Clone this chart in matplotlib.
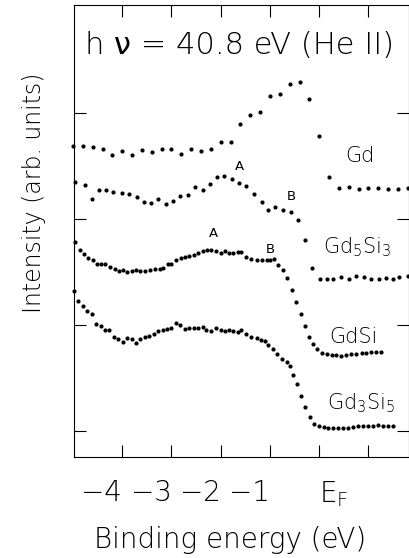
"""
Espectros de fotoemissão (He II, 40.8 eV) de Gd e siliceto de Gd
Pontos lidos do gráfico original
"""
import matplotlib
matplotlib.use("Agg")
import matplotlib.pyplot as plt

plt.rcParams['font.family'] = ['DejaVu Sans']
plt.rcParams['font.weight'] = 200
plt.rcParams['axes.labelweight'] = 200
plt.rcParams['mathtext.fontset'] = 'dejavusans'
plt.rcParams['mathtext.default'] = 'regular'

# Gd (passo de 0.2 eV)
gd_x = [-5.0, -4.8, -4.6, -4.4, -4.2, -4.0, -3.8, -3.6, -3.4, -3.2, -3.0, -2.8,
        -2.6, -2.4, -2.2, -2.0, -1.8, -1.6, -1.4, -1.2, -1.0, -0.8, -0.6, -0.4,
        -0.2, 0.0, 0.2, 0.4, 0.6, 0.8, 1.0, 1.2, 1.4, 1.6, 1.8]
gd_y = [2.69, 2.69, 2.68, 2.66, 2.60, 2.64, 2.60, 2.65, 2.63, 2.66, 2.66, 2.61,
        2.66, 2.64, 2.66, 2.73, 2.73, 2.90, 2.98, 3.01, 3.16, 3.18, 3.27, 3.29,
        3.13, 2.78, 2.40, 2.29, 2.30, 2.28, 2.29, 2.29, 2.28, 2.28, 2.29]

# Gd5Si3
gd5si3_x = [-4.96, -4.76, -4.62, -4.47, -4.33, -4.18, -4.01, -3.86, -3.71, -3.56,
            -3.42, -3.27, -3.11, -2.97, -2.82, -2.66, -2.53, -2.37, -2.22, -2.07,
            -1.94, -1.78, -1.63, -1.48, -1.32, -1.17, -1.04, -0.89, -0.73, -0.58,
            -0.44, -0.29, -0.14, 0.01, 0.15, 0.29, 0.45, 0.60, 0.75, 0.90,
            1.06, 1.21, 1.36, 1.50, 1.63, 1.80]
gd5si3_y = [2.35, 2.32, 2.19, 2.27, 2.27, 2.26, 2.25, 2.24, 2.21, 2.16,
            2.15, 2.19, 2.14, 2.17, 2.22, 2.23, 2.30, 2.27, 2.33, 2.40,
            2.41, 2.38, 2.34, 2.31, 2.24, 2.16, 2.09, 2.11, 2.09, 2.07,
            1.99, 1.80, 1.54, 1.43, 1.43, 1.43, 1.45, 1.43, 1.46, 1.45,
            1.43, 1.43, 1.44, 1.43, 1.45, 1.46]

# GdSi
gdsi_x = [-4.96, -4.86, -4.78, -4.69, -4.60, -4.52, -4.44, -4.35, -4.25, -4.15,
          -4.06, -3.98, -3.90, -3.81, -3.72, -3.64, -3.54, -3.44, -3.34, -3.24,
          -3.17, -3.07, -3.00, -2.90, -2.80, -2.73, -2.64, -2.55, -2.46, -2.37,
          -2.28, -2.19, -2.10, -2.00, -1.92, -1.83, -1.75, -1.65, -1.58, -1.48,
          -1.38, -1.27, -1.17, -1.07, -1.00, -0.92, -0.84, -0.73, -0.65, -0.56,
          -0.48, -0.38, -0.29, -0.21, -0.13, -0.04, 0.06, 0.15, 0.25, 0.35,
          0.45, 0.55, 0.65, 0.75, 0.86, 0.96, 1.06, 1.16, 1.26]
gdsi_y = [1.78, 1.71, 1.67, 1.63, 1.61, 1.58, 1.58, 1.58, 1.55, 1.53,
          1.51, 1.52, 1.50, 1.51, 1.52, 1.51, 1.51, 1.52, 1.53, 1.53,
          1.54, 1.58, 1.58, 1.61, 1.63, 1.64, 1.65, 1.66, 1.68, 1.70,
          1.71, 1.71, 1.70, 1.68, 1.70, 1.68, 1.68, 1.69, 1.69, 1.64,
          1.62, 1.61, 1.61, 1.61, 1.61, 1.62, 1.57, 1.52, 1.44, 1.33,
          1.22, 1.10, 0.99, 0.89, 0.82, 0.77, 0.74, 0.73, 0.72, 0.72,
          0.71, 0.72, 0.73, 0.73, 0.74, 0.74, 0.75, 0.75, 0.75]

# Gd3Si5
gd3si5_x = [-4.98, -4.89, -4.80, -4.71, -4.62, -4.53, -4.44, -4.35, -4.26, -4.17,
            -4.08, -3.99, -3.90, -3.81, -3.72, -3.64, -3.54, -3.45, -3.36, -3.27,
            -3.18, -3.09, -3.00, -2.91, -2.82, -2.73, -2.64, -2.55, -2.46, -2.37,
            -2.29, -2.19, -2.10, -2.00, -1.92, -1.83, -1.75, -1.65, -1.58, -1.48,
            -1.38, -1.27, -1.19, -1.11, -1.04, -0.94, -0.85, -0.75, -0.66, -0.60,
            -0.54, -0.46, -0.38, -0.29, -0.19, -0.10, 0.00, 0.09, 0.18, 0.28,
            0.38, 0.48, 0.58, 0.69, 0.79, 0.89, 0.99, 1.09, 1.19, 1.29,
            1.40, 1.50]
gd3si5_y = [1.32, 1.23, 1.18, 1.13, 1.10, 1.01, 0.99, 0.95, 0.95, 0.89,
            0.87, 0.84, 0.88, 0.87, 0.83, 0.87, 0.89, 0.90, 0.92, 0.94,
            0.95, 0.96, 0.97, 1.02, 1.00, 0.96, 0.97, 0.97, 0.97, 0.98,
            0.95, 0.94, 0.97, 0.95, 0.94, 0.95, 0.94, 0.93, 0.95, 0.92,
            0.89, 0.88, 0.86, 0.85, 0.81, 0.77, 0.73, 0.68, 0.65, 0.61,
            0.53, 0.44, 0.33, 0.23, 0.13, 0.07, 0.05, 0.04, 0.03, 0.03,
            0.03, 0.03, 0.03, 0.04, 0.05, 0.05, 0.05, 0.05, 0.06, 0.05,
            0.05, 0.05]

tick_pos = [-4, -3, -2, -1, 0, 1]
tick_labels = ['−4', '−3', '−2', '−1', r'E$_\mathregular{F}$', '']

fig = plt.figure(figsize=(4.09, 5.58), dpi=100)
ax = fig.add_axes([74/409, 1 - 457/558, 335/409 - 0.001, 452/558])

for xs, ys in [(gd_x, gd_y), (gd5si3_x, gd5si3_y), (gdsi_x, gdsi_y), (gd3si5_x, gd3si5_y)]:
    ax.plot(xs, ys, 'o', color='black', ms=3.0, mew=0, clip_on=False)

ax.set_xlim(-4.98, 1.815)
ax.set_ylim(-0.245, 4.02)

ax.set_xticks(tick_pos)
ax.set_xticklabels(tick_labels, fontsize=20, fontweight=200)
for lab in ax.get_xticklabels()[:4]:
    lab.set_ha('right')
ax.get_xticklabels()[4].set_ha('left')
ax.set_yticks([0, 1, 2, 3])
ax.set_yticklabels([])
ax.tick_params(direction='in', length=8.5, width=0.8, top=True, right=True, pad=16)
for s in ax.spines.values():
    s.set_linewidth(0.8)

ax.set_xlabel('Binding energy (eV)', fontsize=20, fontweight=200, va='baseline')
ax.xaxis.set_label_coords(0.466, -0.201)
ax.set_ylabel('Intensity (arb. units)', fontsize=17, fontweight=200, va='center')
ax.yaxis.set_label_coords(-0.119, 0.584)

# titulo em tres pedacos: o "nu" mais grosso
t1 = ax.text(0.033, 0.878, 'h ', transform=ax.transAxes, fontsize=22, va='bottom')
t2 = ax.annotate('ν', xy=(1, 0), xycoords=t1, fontsize=22, fontweight=400, va='bottom')
ax.annotate(' = 40.8 eV (He II)', xy=(1, 0), xycoords=t2, fontsize=22, va='bottom')

ax.text(0.52, 2.54, 'Gd', fontsize=15, va='baseline')
ax.text(0.08, 1.68, r'Gd$_5$Si$_3$', fontsize=15, va='baseline')
ax.text(0.21, 0.83, 'GdSi', fontsize=15, va='baseline')
ax.text(0.15, 0.20, r'Gd$_3$Si$_5$', fontsize=15, va='baseline')

ax.text(-1.61, 2.46, 'A', fontsize=9.5, fontweight=400, ha='center', va='baseline')
ax.text(-0.56, 2.18, 'B', fontsize=9.5, fontweight=400, ha='center', va='baseline')
ax.text(-2.15, 1.83, 'A', fontsize=9.5, fontweight=400, ha='center', va='baseline')
ax.text(-1.00, 1.68, 'B', fontsize=9.5, fontweight=400, ha='center', va='baseline')

fig.savefig('out.png', dpi=100)
